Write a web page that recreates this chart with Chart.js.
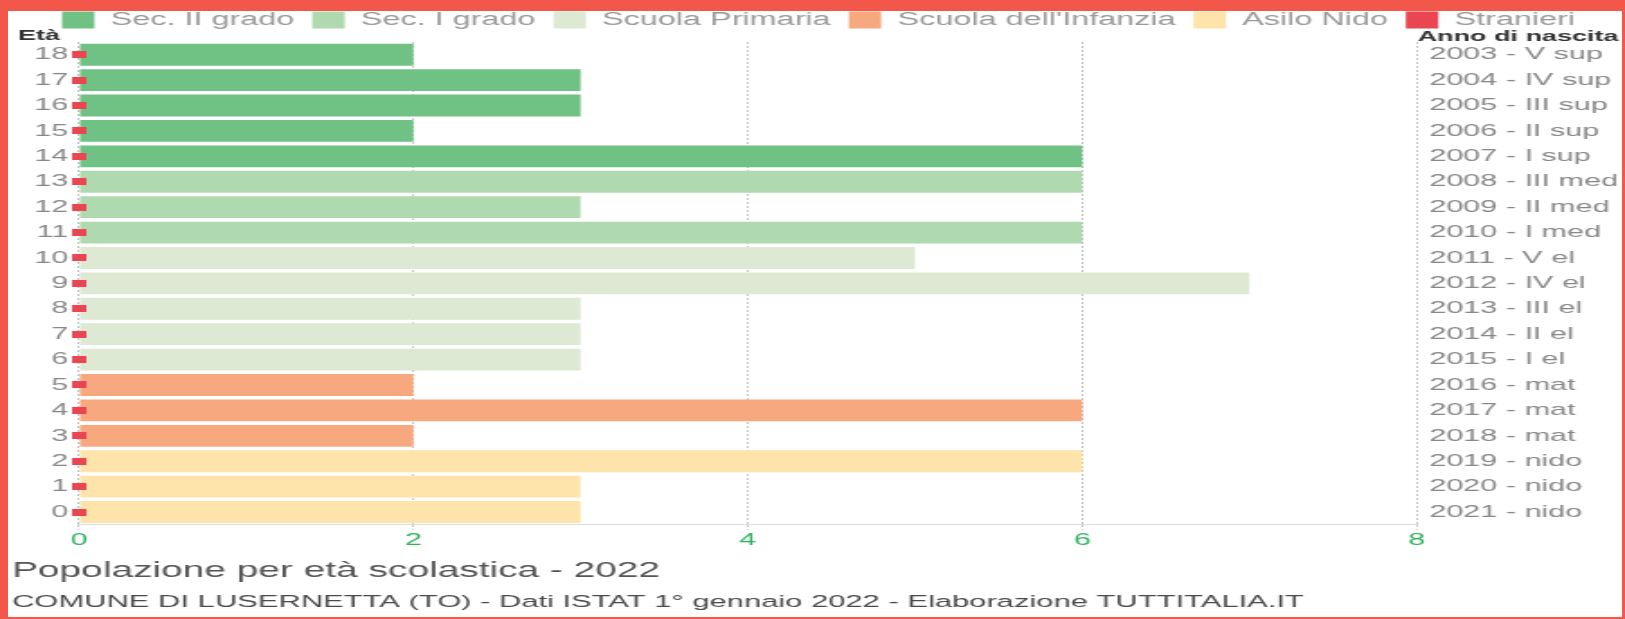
<!DOCTYPE html>
<html>
<head>
<meta charset="utf-8">
<script src="https://cdn.jsdelivr.net/npm/chart.js@4.4.1/dist/chart.umd.min.js"></script>
<style>
    html, body { margin: 0; padding: 0; background: #fff; }
    #wrap { position: relative; width: 1625px; height: 619px; overflow: hidden; }
    /* the original picture is stretched sideways, so is the canvas */
    #chart { position: absolute; left: 0; top: 0; transform-origin: 0 0; transform: scaleX(1.7996); }
    #frame {
        position: absolute; left: 0; top: 0; width: 1625px; height: 619px; box-sizing: border-box;
        border-style: solid; border-color: #f2574a; border-width: 11px 3px 2px 8px; pointer-events: none;
    }
</style>
</head>
<body>
<div id="wrap">
    <canvas id="chart" width="903" height="619" style="width:903px;height:619px"></canvas>
    <div id="frame"></div>
</div>
<script>
const ages = ["18", "17", "16", "15", "14", "13", "12", "11", "10", "9", "8", "7", "6", "5", "4", "3", "2", "1", "0"];
const birthYears = [
    "2003 - V sup", "2004 - IV sup", "2005 - III sup", "2006 - II sup", "2007 - I sup",
    "2008 - III med", "2009 - II med", "2010 - I med",
    "2011 - V el", "2012 - IV el", "2013 - III el", "2014 - II el", "2015 - I el",
    "2016 - mat", "2017 - mat", "2018 - mat",
    "2019 - nido", "2020 - nido", "2021 - nido",
];
const secIIGrado = [2, 3, 3, 2, 6, null, null, null, null, null, null, null, null, null, null, null, null, null, null];
const secIGrado = [null, null, null, null, null, 6, 3, 6, null, null, null, null, null, null, null, null, null, null, null];
const primaria = [null, null, null, null, null, null, null, null, 5, 7, 3, 3, 3, null, null, null, null, null, null];
const infanzia = [null, null, null, null, null, null, null, null, null, null, null, null, null, 2, 6, 2, null, null, null];
const asiloNido = [null, null, null, null, null, null, null, null, null, null, null, null, null, null, null, null, 6, 3, 3];
const stranieri = [0, 0, 0, 0, 0, 0, 0, 0, 0, 0, 0, 0, 0, 0, 0, 0, 0, 0, 0];
const xTicks = [0, 2, 4, 6, 8];

const leftTitle = "Età";
const rightTitle = "Anno di nascita";
const chartTitle = "Popolazione per età scolastica - 2022";
const chartSubtitle = "COMUNE DI LUSERNETTA (TO) - Dati ISTAT 1° gennaio 2022 - Elaborazione TUTTITALIA.IT";

const FONT = '"Liberation Sans", Arial, Helvetica, sans-serif';
const RED = "#ea4651";

// small red square used for the Stranieri points
const marker = document.createElement("canvas");
marker.width = 8;
marker.height = 7;
const mctx = marker.getContext("2d");
mctx.fillStyle = RED;
mctx.fillRect(0, 0, 8, 7);

function barSet(label, data, color) {
    return {
        label,
        data,
        backgroundColor: color,
        borderWidth: 0,
        grouped: false,
        barPercentage: 0.86,
        categoryPercentage: 1,
        order: 1,
    };
}

// a bit more room under the legend for the axis headers
const legendGap = {
    id: "legendGap",
    afterInit(chart) {
        const legend = chart.legend;
        if (!legend) {
            return;
        }
        const fit = legend.fit.bind(legend);
        legend.fit = () => {
            fit();
            legend.height += 3;
        };
    },
};

const axisHeaders = {
    id: "axisHeaders",
    afterDraw(chart) {
        const { ctx, chartArea, scales } = chart;
        ctx.save();
        ctx.font = `bold 15px ${FONT}`;
        ctx.fillStyle = "#333";
        ctx.textBaseline = "middle";
        ctx.textAlign = "right";
        ctx.fillText(leftTitle, scales.y.right - 10.5, chartArea.top - 6);
        ctx.textAlign = "left";
        ctx.fillText(rightTitle, scales.y2.left + 0.5, chartArea.top - 5);
        ctx.restore();
    },
};

new Chart(document.getElementById("chart"), {
    type: "bar",
    data: {
        labels: ages,
        datasets: [
            barSet("Sec. II grado", secIIGrado, "#70c184"),
            barSet("Sec. I grado", secIGrado, "#afd9ae"),
            barSet("Scuola Primaria", primaria, "#dde9d3"),
            barSet("Scuola dell'Infanzia", infanzia, "#f8a87e"),
            barSet("Asilo Nido", asiloNido, "#fee3aa"),
            {
                type: "line",
                label: "Stranieri",
                data: stranieri,
                indexAxis: "y",
                xAxisID: "x",
                yAxisID: "y",
                showLine: false,
                pointStyle: marker,
                pointRadius: 4,
                backgroundColor: RED,
                borderColor: RED,
                borderWidth: 0,
                clip: false,
                order: 0,
            },
        ],
    },
    options: {
        indexAxis: "y",
        responsive: false,
        animation: false,
        devicePixelRatio: 1,
        layout: { padding: { left: 6.7, top: 1, right: 0, bottom: 0 } },
        plugins: {
            tooltip: { enabled: false },
            legend: {
                position: "top",
                labels: {
                    boxWidth: 18,
                    boxHeight: 17,
                    padding: 10,
                    color: "#999",
                    font: { family: FONT, size: 18 },
                    sort: (a, b) => a.datasetIndex - b.datasetIndex,
                },
            },
            title: {
                display: true,
                text: chartTitle,
                position: "bottom",
                align: "start",
                weight: 100,
                color: "#555",
                font: { family: FONT, size: 21.6, weight: "normal" },
                padding: { top: 8, bottom: 0 },
            },
            subtitle: {
                display: true,
                text: chartSubtitle,
                position: "bottom",
                align: "start",
                weight: 200,
                color: "#4a4a4a",
                font: { family: FONT, size: 17.2 },
                padding: { top: 8, bottom: 6 },
            },
        },
        scales: {
            x: {
                type: "linear",
                min: xTicks[0],
                max: xTicks[xTicks.length - 1],
                afterBuildTicks: (scale) => {
                    scale.ticks = xTicks.map((v) => ({ value: v }));
                },
                grid: {
                    color: "#c4c4c4",
                    tickLength: 5,
                    tickColor: "#c4c4c4",
                    tickBorderDash: [2, 2],
                },
                border: { display: true, color: "#dcdcdc", width: 1, dash: [2, 2] },
                ticks: {
                    color: "#2fb35f",
                    padding: 1,
                    font: { family: FONT, size: 17, lineHeight: 1.1 },
                },
            },
            y: {
                type: "category",
                position: "left",
                offset: true,
                afterFit: (scale) => {
                    scale.width = 37.2;
                },
                grid: { display: false, drawTicks: false },
                border: { display: false },
                ticks: {
                    color: "#888",
                    padding: 6,
                    font: { family: FONT, size: 17 },
                },
            },
            y2: {
                type: "category",
                position: "right",
                labels: birthYears,
                offset: true,
                afterFit: (scale) => {
                    scale.width = 115.8;
                },
                grid: { display: false, drawTicks: false },
                border: { display: false },
                ticks: {
                    color: "#888",
                    padding: 7,
                    font: { family: FONT, size: 17 },
                },
            },
        },
    },
    plugins: [legendGap, axisHeaders],
});
</script>
</body>
</html>
